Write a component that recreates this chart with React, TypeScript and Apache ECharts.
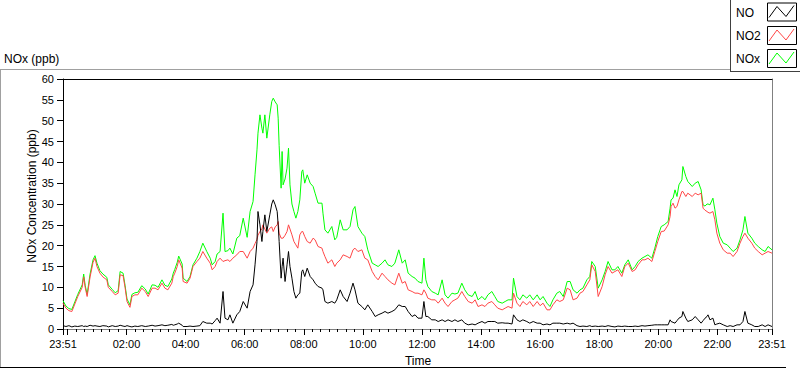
import React, { useEffect, useRef } from "react";
import * as echarts from "echarts";

// minutes elapsed since 23:51 (start of record)
const minutes = [
  0, 6, 12, 18, 24, 30, 39, 42, 45, 49, 55, 61, 65, 69, 75, 81, 89, 92, 100, 106,
  112, 116, 122, 126, 130, 136, 140, 146, 152, 160, 167, 173, 181, 187, 193, 201, 207, 213, 221, 224,
  227, 232, 235, 242, 244, 252, 258, 264, 272, 278, 284, 292, 299, 303, 309, 313, 319, 325, 329, 335,
  339, 345, 353, 359, 366, 374, 380, 386, 390, 394, 396, 400, 404, 406, 410, 414, 420, 424, 427, 431,
  435, 437, 439, 443, 445, 447, 451, 455, 458, 461, 465, 469, 473, 477, 481, 485, 487, 491, 496, 502,
  508, 512, 518, 526, 528, 532, 538, 546, 552, 556, 563, 569, 577, 583, 589, 593, 599, 607, 613, 619,
  628, 634, 640, 648, 654, 660, 668, 674, 682, 689, 695, 701, 709, 715, 721, 729, 733, 737, 741, 749,
  756, 762, 770, 776, 782, 790, 796, 802, 810, 816, 823, 831, 837, 843, 851, 857, 863, 871, 877, 883,
  892, 898, 904, 912, 915, 922, 928, 934, 942, 948, 955, 963, 969, 975, 983, 989, 995, 1003, 1009, 1016,
  1024, 1030, 1036, 1044, 1050, 1056, 1064, 1070, 1074, 1081, 1087, 1095, 1101, 1107, 1115, 1121, 1127, 1135, 1141, 1148,
  1156, 1162, 1168, 1176, 1182, 1188, 1196, 1202, 1208, 1215, 1221, 1229, 1233, 1235, 1239, 1243, 1247, 1251, 1257, 1259,
  1265, 1269, 1278, 1284, 1290, 1296, 1300, 1304, 1308, 1310, 1314, 1320, 1324, 1328, 1334, 1341, 1349, 1355, 1361, 1369,
  1375, 1381, 1385, 1391, 1399, 1405, 1412, 1420, 1426, 1432, 1440,
];

const noValues = [
  0.8, 0.6, 0.8, 0.5, 0.7, 0.6, 0.8, 0.6, 0.7, 0.6, 0.9, 0.7, 0.8, 0.7, 0.6, 0.8, 0.7, 0.5, 0.8, 0.6,
  0.7, 0.9, 0.7, 0.6, 0.8, 0.6, 0.5, 0.7, 0.6, 0.8, 0.6, 0.7, 0.9, 0.7, 0.8, 1.0, 0.8, 0.9, 1.1, 0.9,
  1.0, 1.2, 1.4, 0.9, 0.6, 0.6, 0.7, 0.6, 0.7, 0.8, 1.8, 1.4, 1.4, 1.2, 2.0, 2.6, 1.4, 9.0, 2.6, 2.2,
  3.4, 1.4, 3.4, 4.2, 6.6, 5.0, 9.0, 10.6, 15.4, 21.0, 28.2, 25.0, 21.0, 23.4, 27.4, 23.4, 27.4, 30.0, 31.0, 29.8,
  28.2, 25.0, 21.0, 12.2, 15.0, 17.0, 11.4, 15.4, 18.6, 15.0, 12.2, 9.0, 7.4, 8.2, 8.6, 13.8, 14.2, 12.6, 14.6, 12.6,
  11.8, 11.0, 10.2, 9.8, 9.4, 6.6, 6.2, 6.6, 6.2, 7.0, 9.4, 7.8, 6.6, 8.6, 11.0, 9.4, 6.2, 5.4, 4.6, 5.8,
  4.2, 3.0, 3.4, 3.8, 4.2, 3.8, 4.2, 4.6, 5.8, 5.4, 5.4, 4.2, 3.0, 3.4, 2.6, 2.6, 6.6, 3.0, 3.0, 2.2,
  2.2, 1.8, 2.2, 1.8, 2.2, 1.8, 2.2, 1.8, 2.2, 1.4, 1.0, 1.2, 1.0, 1.4, 1.8, 1.4, 1.8, 1.8, 1.8, 1.4,
  1.5, 1.4, 1.4, 1.2, 3.4, 2.2, 1.8, 2.2, 1.8, 1.4, 1.8, 1.4, 1.4, 1.0, 1.2, 1.0, 1.4, 1.4, 1.4, 1.2,
  1.4, 1.2, 1.4, 0.8, 0.6, 0.7, 0.6, 0.8, 0.6, 0.7, 0.6, 0.7, 0.6, 0.8, 0.6, 0.5, 0.7, 0.6, 0.7, 0.6,
  0.6, 0.7, 0.6, 0.8, 0.7, 0.8, 0.9, 1.0, 1.0, 1.0, 1.0, 1.0, 2.2, 1.8, 1.6, 1.4, 2.0, 2.6, 3.0, 4.2,
  2.6, 1.8, 2.2, 3.0, 2.2, 1.4, 2.0, 2.6, 3.0, 3.4, 2.2, 2.6, 1.0, 1.2, 1.4, 1.0, 0.6, 0.8, 0.6, 1.0,
  1.0, 1.8, 4.2, 1.4, 1.0, 0.6, 0.6, 1.0, 0.6, 1.0, 0.6,
];

const no2Values = [
  6.2, 5.0, 4.4, 4.2, 6.0, 7.8, 10.0, 12.5, 10.0, 7.8, 12.5, 16.0, 17.0, 15.0, 13.4, 12.5, 11.8, 10.0, 9.0, 8.2,
  8.6, 13.0, 12.8, 10.0, 6.6, 5.2, 7.8, 8.2, 8.2, 9.8, 9.0, 7.8, 9.8, 9.8, 9.4, 11.0, 9.8, 9.4, 11.0, 12.6,
  13.4, 15.0, 16.6, 14.6, 11.4, 11.0, 12.2, 15.0, 16.2, 17.0, 18.6, 17.0, 15.8, 14.2, 15.0, 16.2, 17.0, 16.2, 16.4, 16.6,
  16.2, 17.0, 17.8, 18.6, 18.6, 17.0, 18.6, 19.4, 20.5, 21.5, 22.5, 23.4, 24.0, 25.0, 24.0, 23.0, 24.2, 24.5, 23.4, 24.5,
  25.0, 25.8, 23.0, 21.8, 21.8, 21.8, 22.5, 23.4, 25.0, 24.0, 22.6, 21.0, 20.2, 19.4, 22.6, 23.4, 23.4, 22.2, 21.0, 20.6,
  21.8, 21.4, 19.8, 19.4, 18.6, 17.4, 15.8, 16.6, 15.0, 15.8, 16.6, 17.8, 17.4, 17.0, 19.0, 19.4, 18.6, 19.0, 17.0, 16.6,
  13.8, 12.6, 11.8, 13.4, 12.6, 11.8, 11.0, 10.6, 13.4, 11.0, 11.4, 9.4, 9.0, 8.6, 8.6, 8.2, 9.4, 8.6, 7.4, 7.0,
  7.0, 6.2, 7.4, 6.2, 5.4, 6.6, 7.0, 7.4, 9.0, 7.8, 6.6, 6.2, 7.0, 5.4, 5.8, 5.4, 6.2, 6.6, 5.8, 5.0,
  4.6, 5.0, 5.4, 5.0, 8.6, 6.2, 5.4, 6.6, 5.8, 6.6, 5.4, 6.6, 5.6, 6.2, 4.6, 4.6, 5.8, 7.0, 6.6, 7.0,
  9.8, 9.4, 7.0, 7.4, 8.6, 9.0, 10.6, 11.8, 15.4, 13.8, 7.8, 10.2, 13.0, 15.0, 13.4, 13.8, 14.2, 12.6, 15.0, 15.8,
  13.8, 14.2, 15.4, 16.6, 16.6, 17.0, 16.2, 18.6, 21.0, 23.4, 23.5, 25.0, 27.0, 29.4, 30.2, 29.0, 29.4, 31.0, 33.0, 33.0,
  31.8, 32.6, 31.8, 32.6, 32.2, 32.6, 29.0, 28.5, 28.2, 28.0, 27.8, 28.2, 26.2, 23.0, 20.6, 19.0, 18.2, 18.2, 17.4, 18.6,
  20.6, 22.2, 23.0, 21.8, 20.6, 19.4, 18.6, 17.8, 18.2, 18.6, 18.2,
];

const noxValues = [
  6.8, 5.5, 4.9, 4.7, 6.5, 8.3, 10.6, 13.2, 10.5, 8.3, 13.2, 16.6, 17.6, 15.8, 14.0, 13.2, 12.4, 10.6, 9.5, 8.7,
  9.2, 13.8, 13.4, 10.5, 7.2, 5.8, 8.3, 8.7, 8.8, 10.4, 9.6, 8.4, 10.6, 10.5, 10.0, 11.8, 10.5, 10.2, 12.0, 13.4,
  14.3, 16.0, 17.5, 15.6, 12.2, 11.4, 12.6, 15.4, 17.0, 18.6, 20.6, 18.6, 17.0, 15.4, 16.2, 18.0, 18.6, 27.8, 18.6, 18.8,
  19.4, 18.0, 21.8, 22.4, 26.6, 22.0, 28.2, 30.6, 37.0, 43.0, 47.0, 51.4, 48.2, 47.0, 51.4, 45.8, 51.4, 54.6, 55.4, 54.5,
  53.8, 50.6, 44.0, 33.8, 42.6, 34.6, 36.0, 38.6, 43.4, 34.6, 30.0, 28.2, 26.6, 28.2, 31.0, 37.8, 38.2, 35.0, 37.0, 35.0,
  34.2, 32.6, 30.2, 30.2, 27.8, 23.8, 23.0, 24.6, 21.4, 22.0, 26.2, 23.8, 23.8, 24.6, 28.6, 29.4, 24.6, 23.0, 22.2, 19.0,
  15.8, 15.4, 15.0, 15.8, 16.6, 15.4, 15.0, 15.8, 19.0, 15.8, 16.6, 13.4, 12.6, 12.2, 11.4, 11.0, 17.0, 11.8, 10.2, 9.0,
  8.6, 8.2, 11.8, 8.2, 7.4, 8.6, 8.4, 8.6, 11.0, 9.4, 8.2, 7.8, 9.0, 7.0, 7.8, 7.0, 8.2, 9.0, 7.8, 6.6,
  6.2, 6.6, 7.0, 7.0, 12.2, 7.8, 7.0, 8.2, 7.4, 8.2, 7.0, 8.2, 7.0, 7.8, 6.2, 5.4, 7.0, 8.6, 9.0, 7.8,
  11.4, 11.4, 9.4, 8.6, 9.4, 9.8, 11.8, 12.6, 16.2, 15.0, 9.8, 11.8, 13.8, 16.2, 14.2, 14.2, 15.0, 13.4, 15.4, 16.6,
  14.2, 15.0, 16.2, 17.0, 17.4, 17.8, 17.0, 19.4, 22.2, 24.6, 25.0, 25.8, 29.0, 31.0, 31.4, 33.4, 31.8, 34.6, 35.8, 39.0,
  36.6, 35.4, 34.2, 35.0, 35.4, 33.4, 29.8, 29.5, 30.0, 30.0, 29.8, 31.4, 28.6, 25.4, 22.2, 20.6, 20.2, 19.4, 18.6, 19.4,
  21.4, 23.8, 27.0, 23.0, 21.8, 20.6, 19.8, 19.0, 18.6, 19.8, 19.0,
];

const xTickMinutes = [0, 129, 249, 369, 489, 609, 729, 849, 969, 1089, 1209, 1329, 1440];
const xTickLabels = ["23:51", "02:00", "04:00", "06:00", "08:00", "10:00", "12:00", "14:00", "16:00", "18:00", "20:00", "22:00", "23:51"];
const midnightMinute = 9;

const seriesNames = ["NO", "NO2", "NOx"];
const seriesColors = ["#000000", "#ff4646", "#00ff00"];

const FONT = '"Liberation Sans", Arial, sans-serif';

export default function App() {
  const ref = useRef<HTMLDivElement>(null);

  useEffect(() => {
    if (!ref.current) return;
    const chart = echarts.init(ref.current, null, { renderer: "svg" });

    const pairs = (vals: number[]) => minutes.map((m, i) => [m, vals[i]]);
    const majorTicks = [...xTickMinutes, midnightMinute].sort((a, b) => a - b);
    const minorTicks: number[] = [];
    for (let k = 1; ; k++) {
      const v = midnightMinute + (k * 120) / 7;
      if (v > 1440) break;
      if (k % 7 !== 0) minorTicks.push(v);
    }

    const hidden = { show: false };
    const legendRows = [12.5, 36, 59];
    const legendGraphics: any[] = [];
    seriesNames.forEach((name, i) => {
      const cy = legendRows[i];
      legendGraphics.push({
        type: "text",
        x: 736,
        y: cy,
        style: { text: name, fill: "#000", font: `12px ${FONT}`, textVerticalAlign: "middle", verticalAlign: "middle" },
      });
      legendGraphics.push({
        type: "rect",
        shape: { x: 767.5, y: cy - 9.5, width: 29, height: 18 },
        style: { fill: "#fff", stroke: "#000", lineWidth: 1 },
      });
      legendGraphics.push({
        type: "polyline",
        shape: {
          points: [
            [769, cy + 5],
            [777, cy - 6],
            [786, cy + 4],
            [794, cy - 7],
          ],
        },
        style: { stroke: seriesColors[i], lineWidth: 1, fill: "none" },
      });
    });

    const lineSeries = (idx: number, vals: number[], z: number) => ({
      name: seriesNames[idx],
      type: "line",
      data: pairs(vals),
      showSymbol: false,
      symbol: "none",
      z,
      color: seriesColors[idx],
      lineStyle: { color: seriesColors[idx], width: 1 },
      emphasis: { disabled: true },
    });

    chart.setOption({
      animation: false,
      backgroundColor: "#ffffff",
      grid: { left: 63, right: 28, top: 79, bottom: 40, show: false },
      xAxis: [
        {
          type: "value",
          min: 0,
          max: 1440,
          position: "bottom",
          axisLine: { show: true, onZero: false, lineStyle: { color: "#808080", width: 1 } },
          axisTick: { show: true, customValues: majorTicks, length: 6, lineStyle: { color: "#000" } },
          axisLabel: {
            customValues: xTickMinutes,
            formatter: (v: number) => {
              const i = xTickMinutes.indexOf(Math.round(v));
              return i >= 0 ? xTickLabels[i] : "";
            },
            fontSize: 11,
            fontFamily: FONT,
            color: "#000",
            margin: 9,
            hideOverlap: false,
            showMinLabel: true,
            showMaxLabel: true,
          },
          splitLine: hidden,
        },
        {
          type: "value",
          min: 0,
          max: 1440,
          position: "bottom",
          axisLine: { show: false, onZero: false },
          axisTick: { show: true, customValues: minorTicks, length: 3, lineStyle: { color: "#000" } },
          axisLabel: hidden,
          splitLine: hidden,
        },
        {
          type: "value",
          min: 0,
          max: 1440,
          position: "top",
          axisLine: { show: true, onZero: false, lineStyle: { color: "#000", width: 1 } },
          axisTick: hidden,
          axisLabel: hidden,
          splitLine: hidden,
        },
      ],
      yAxis: [
        {
          type: "value",
          min: 0,
          max: 60,
          interval: 5,
          position: "left",
          axisLine: { show: true, onZero: false, lineStyle: { color: "#000", width: 1 } },
          axisTick: { show: true, length: 6, lineStyle: { color: "#000" } },
          axisLabel: { fontSize: 11, fontFamily: FONT, color: "#000", margin: 9 },
          splitLine: hidden,
        },
        {
          type: "value",
          min: 0,
          max: 60,
          interval: 5,
          position: "right",
          axisLine: { show: true, onZero: false, lineStyle: { color: "#808080", width: 1 } },
          axisTick: hidden,
          axisLabel: hidden,
          splitLine: hidden,
        },
      ],
      series: [lineSeries(2, noxValues, 2), lineSeries(1, no2Values, 3), lineSeries(0, noValues, 4)],
      graphic: [
        { type: "line", shape: { x1: 0, y1: 69.5, x2: 730, y2: 69.5 }, style: { stroke: "#a0a0a0", lineWidth: 1 } },
        { type: "line", shape: { x1: 0.5, y1: 69, x2: 0.5, y2: 368 }, style: { stroke: "#a0a0a0", lineWidth: 1 } },
        { type: "line", shape: { x1: 0, y1: 367.5, x2: 786, y2: 367.5 }, style: { stroke: "#000", lineWidth: 1 } },
        { type: "line", shape: { x1: 730.5, y1: 0, x2: 730.5, y2: 71 }, style: { stroke: "#404040", lineWidth: 1 } },
        { type: "line", shape: { x1: 730, y1: 71.5, x2: 800, y2: 71.5 }, style: { stroke: "#404040", lineWidth: 1 } },
        {
          type: "text",
          x: 4,
          y: 59,
          style: { text: "NOx (ppb)", fill: "#000", font: `12px ${FONT}`, textVerticalAlign: "middle", verticalAlign: "middle" },
        },
        {
          type: "text",
          x: 32,
          y: 196,
          rotation: Math.PI / 2,
          style: {
            text: "NOx Concentration (ppb)",
            fill: "#000",
            font: `12px ${FONT}`,
            textAlign: "center",
            align: "center",
            textVerticalAlign: "middle",
            verticalAlign: "middle",
          },
        },
        {
          type: "text",
          x: 418,
          y: 361,
          style: {
            text: "Time",
            fill: "#000",
            font: `12px ${FONT}`,
            textAlign: "center",
            align: "center",
            textVerticalAlign: "middle",
            verticalAlign: "middle",
          },
        },
        ...legendGraphics,
      ],
    });

    return () => chart.dispose();
  }, []);

  return <div ref={ref} style={{ position: "fixed", left: 0, top: 0, width: 800, height: 369 }} />;
}
